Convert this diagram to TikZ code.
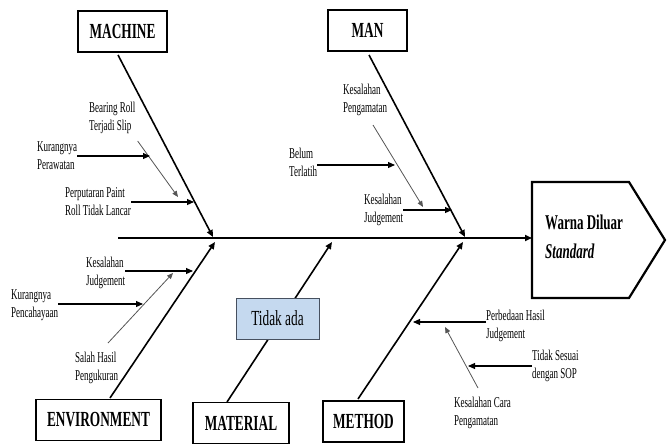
\documentclass[tikz,border=0pt]{standalone}
\usepackage{fontspec}
\setmainfont{Liberation Serif}
\newfontfamily\fishfont[FakeStretch=0.6]{Liberation Serif}
\newfontfamily\titlefont[FakeStretch=0.62]{Liberation Serif}
\usetikzlibrary{arrows.meta}
\definecolor{tidakblue}{RGB}{197,217,239}
\definecolor{tidakedge}{RGB}{70,80,95}
\definecolor{subgray}{RGB}{85,85,85}

\begin{document}
\begin{tikzpicture}[x=1pt,y=-1pt,
    catbox/.style={draw, line width=1.5pt, minimum width=#1, minimum height=41, inner sep=0pt,
        font=\titlefont\fontsize{21.5}{24}\selectfont\bfseries},
    cause/.style={anchor=north west, align=left, inner sep=0pt,
        font=\fishfont\fontsize{15}{18}\selectfont},
    bone/.style={line width=1.6pt, -{Triangle[length=7pt,width=6pt]}},
    sub/.style={line width=1.1pt, -{Triangle[length=7pt,width=6pt]}},
    subsub/.style={line width=0.8pt, subgray, -{Triangle[length=6pt,width=5pt]}}]
    \useasboundingbox (0,0) rectangle (669,444);

    % Head (effect)
    \draw[line width=2.2pt] (532,182) -- (629,182) -- (665,240) -- (629,298) -- (532,298) -- cycle;
    \node[anchor=north west, align=left, inner sep=0pt,
        font=\titlefont\fontsize{21}{29}\selectfont\bfseries] (effect) at (545,215)
        {Warna Diluar\\\textit{Standard}};
    \coordinate (headin) at (532,238);

    % Spine
    \coordinate (spine) at (118,238);
    \draw[bone] (spine) -- (headin);

    % Category boxes
    \node[catbox=89] (machine) at (122.5,31.5) {MACHINE};
    \node[catbox=79] (man) at (367.5,30.5) {MAN};
    \node[catbox=125] (environment) at (98.5,420) {ENVIRONMENT};
    \node[catbox=96] (material) at (241,423) {MATERIAL};
    \node[catbox=81] (method) at (363.5,421.5) {METHOD};

    % Bones
    \coordinate (machtop) at (118,55);
    \coordinate (machend) at (213,237);
    \coordinate (mantop) at (369,55);
    \coordinate (manend) at (465,237);
    \coordinate (envbot) at (110,398);
    \coordinate (envend) at (215,242);
    \coordinate (matbot) at (227,402);
    \coordinate (matend) at (332,242);
    \coordinate (methbot) at (358,399);
    \coordinate (methend) at (463,242);
    \draw[bone] (machtop) -- (machend);
    \draw[bone] (mantop) -- (manend);
    \draw[bone] (envbot) -- (envend);
    \draw[bone] (matbot) -- (matend);
    \draw[bone] (methbot) -- (methend);

    % Material cause
    \node[draw=tidakedge, fill=tidakblue, line width=0.8pt, minimum width=83, minimum height=41,
        inner sep=0pt, font=\titlefont\fontsize{21.5}{24}\selectfont] (tidak) at (277.5,318.5) {Tidak ada};

    % Machine causes
    \node[cause] (bearing) at (89,102) {Bearing Roll\\Terjadi Slip};
    \node[cause] (rawat) at (37,141) {Kurangnya\\Perawatan};
    \node[cause] (putar) at (65,187) {Perputaran Paint\\Roll Tidak Lancar};
    \coordinate (bearingend) at (178,197);
    \coordinate (rawatend) at (150,156);
    \coordinate (putarend) at (194,202);
    \draw[subsub] ([xshift=2pt,yshift=-7pt]bearing.south east) -- (bearingend);
    \draw[sub] (rawat.east |- rawatend) -- (rawatend);
    \draw[sub] (putar.east |- putarend) -- (putarend);

    % Man causes
    \node[cause] (amat) at (343,84) {Kesalahan\\Pengamatan};
    \node[cause] (latih) at (289,148) {Belum\\Terlatih};
    \node[cause] (judge) at (364,194) {Kesalahan\\Judgement};
    \coordinate (amatend) at (423,207);
    \coordinate (latihend) at (395,165);
    \coordinate (judgeend) at (452,210);
    \draw[subsub] (373,125) -- (amatend);
    \draw[sub] (latih.east |- latihend) -- (latihend);
    \draw[sub] (judge.east |- judgeend) -- (judgeend);

    % Environment causes
    \node[cause] (envjudge) at (86,257) {Kesalahan\\Judgement};
    \node[cause] (cahaya) at (11,289) {Kurangnya\\Pencahayaan};
    \node[cause] (ukur) at (75,352) {Salah Hasil\\Pengukuran};
    \coordinate (envjudgeend) at (193,271);
    \coordinate (cahayaend) at (143,304);
    \coordinate (ukurend) at (173,273);
    \draw[sub] (envjudge.east |- envjudgeend) -- (envjudgeend);
    \draw[sub] (cahaya.east |- cahayaend) -- (cahayaend);
    \draw[subsub] (108,343) -- (ukurend);

    % Method causes
    \node[cause] (beda) at (486,310) {Perbedaan Hasil\\Judgement};
    \node[cause] (sop) at (532,350) {Tidak Sesuai\\dengan SOP};
    \node[cause] (cara) at (454,397) {Kesalahan Cara\\Pengamatan};
    \coordinate (bedaend) at (413,322);
    \coordinate (sopend) at (468,366);
    \coordinate (caraend) at (445,327);
    \draw[sub] (beda.west |- bedaend) -- (bedaend);
    \draw[sub] (sop.west |- sopend) -- (sopend);
    \draw[subsub] (478,388) -- (caraend);
\end{tikzpicture}
\end{document}
